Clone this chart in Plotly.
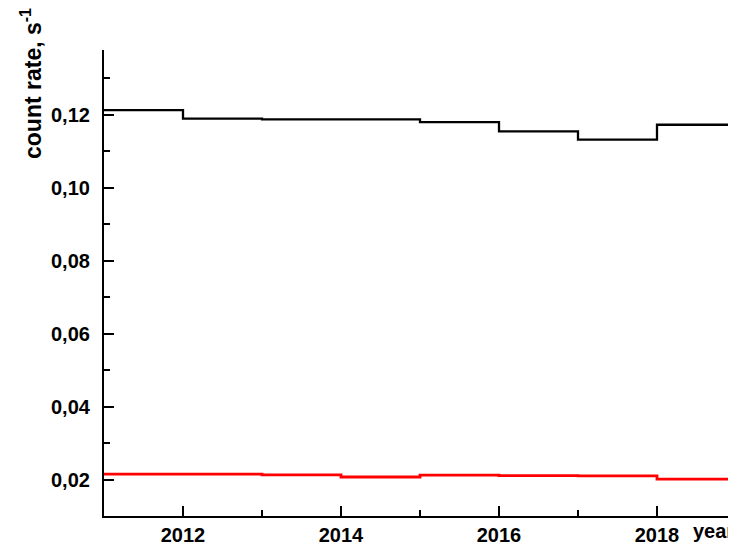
import plotly.graph_objects as go

years = [2011, 2012, 2013, 2014, 2015, 2016, 2017, 2018]
x_end = 2019
black_rate = [0.1213, 0.1190, 0.1188, 0.1188, 0.1180, 0.1155, 0.1132, 0.1173]
red_rate = [0.0215, 0.0215, 0.0213, 0.0207, 0.0212, 0.0211, 0.0210, 0.0201]
x_ticks = [2012, 2014, 2016, 2018]
y_ticks = [0.02, 0.04, 0.06, 0.08, 0.10, 0.12]

xs = years + [x_end]
fig = go.Figure()
fig.add_trace(go.Scatter(x=xs, y=black_rate + [black_rate[-1]], mode="lines",
                         line=dict(shape="hv", color="black", width=2.3), showlegend=False))
fig.add_trace(go.Scatter(x=xs, y=red_rate + [red_rate[-1]], mode="lines",
                         line=dict(shape="hv", color="red", width=2.8), showlegend=False))

FAM = "Liberation Sans, Arial, sans-serif"
tickfont = dict(family=FAM, size=20, color="black", weight="bold")

# page body has an 8px default margin; compensate so the plot lands where the reference has it
OFF = 8
W, H = 736 - OFF, 545 - OFF
L, T, B = 104 - OFF, 50 - OFF, 29
PW, PH = W - L, H - T - B

fig.update_layout(
    width=W, height=H,
    margin=dict(l=L, r=0, t=T, b=B, autoexpand=False),
    paper_bgcolor="white", plot_bgcolor="white",
    separators=",.",
    xaxis=dict(range=[2011, 2019], tickvals=x_ticks, ticktext=[str(v) for v in x_ticks],
               automargin=False,
               showline=True, linecolor="black", linewidth=2.2, showgrid=False, zeroline=False,
               ticks="inside", ticklen=10, tickwidth=2, tickcolor="black",
               tickfont=tickfont,
               minor=dict(tickvals=years + [x_end], ticks="inside", ticklen=6, tickwidth=2, tickcolor="black")),
    yaxis=dict(range=[0.01, 0.1378], tickvals=y_ticks, tickformat=".2f",
               automargin=False,
               showline=True, linecolor="black", linewidth=2.2, showgrid=False, zeroline=False,
               ticks="inside", ticklen=10, tickwidth=2, tickcolor="black",
               ticklabelstandoff=8,
               tickfont=tickfont,
               minor=dict(dtick=0.01, tick0=0.01, ticks="inside", ticklen=6, tickwidth=2, tickcolor="black")),
    annotations=[
        dict(text="<b>count rate, s<sup>-1</sup></b>", textangle=-90, xref="paper", yref="paper",
             x=(31 - 104) / PW, y=(516 - 84) / PH, xanchor="center", yanchor="middle",
             showarrow=False, font=dict(family=FAM, size=23, color="black")),
        dict(text="<b>year</b>", xref="paper", yref="paper",
             x=1.0, y=-(531 - 516) / PH, xanchor="right", yanchor="middle",
             showarrow=False, font=dict(family=FAM, size=20, color="black")),
    ],
)

fig.write_html("out.html")
